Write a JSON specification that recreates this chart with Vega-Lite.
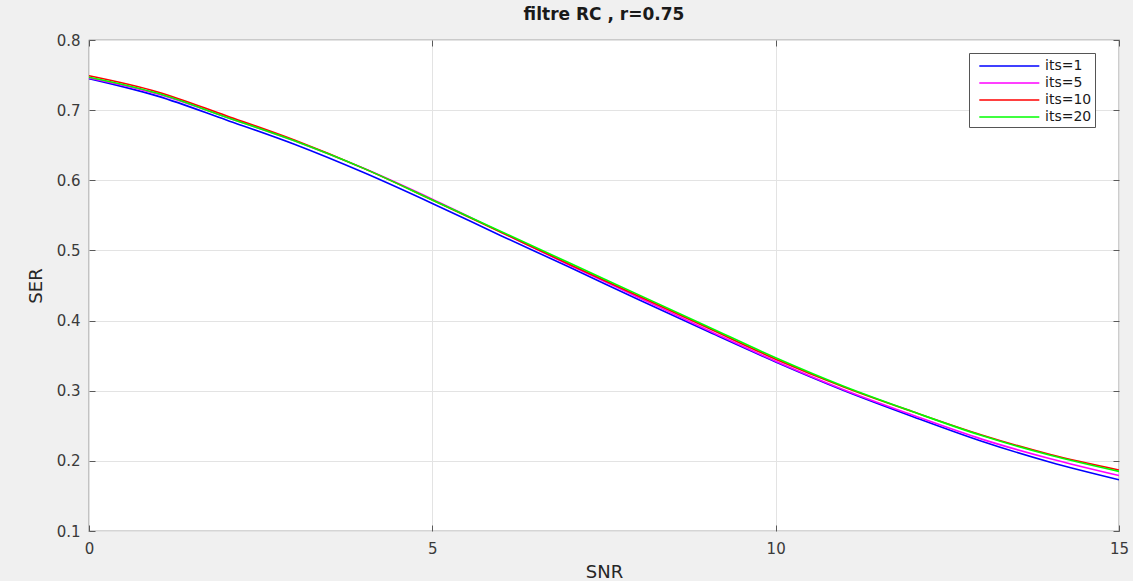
{
  "$schema": "https://vega.github.io/schema/vega-lite/v6.json",
  "width": 1030,
  "height": 491,
  "autosize": {"type": "none"},
  "padding": {"left": 89, "top": 40, "right": 14, "bottom": 50},
  "background": "#f0f0f0",
  "config": {
    "font": "DejaVu Sans",
    "view": {"fill": "#ffffff", "stroke": "#5a5a5a", "strokeWidth": 1.2},
    "axis": {
      "labelFont": "DejaVu Sans",
      "labelFontSize": 15,
      "labelColor": "#3a3a3a",
      "labelFlush": false,
      "titleFont": "DejaVu Sans",
      "titleFontSize": 18,
      "titleFontWeight": "normal",
      "titleColor": "#262626",
      "gridColor": "#e3e3e3",
      "gridWidth": 1,
      "domain": false,
      "tickColor": "#5a5a5a",
      "tickSize": -6,
      "tickWidth": 1
    }
  },
  "title": {
    "text": "filtre RC , r=0.75",
    "font": "DejaVu Sans",
    "fontSize": 17,
    "fontWeight": "bold",
    "color": "#1a1a1a",
    "offset": 9,
    "anchor": "middle"
  },
  "data": {
    "values": [
      {"SNR": 0, "SER": 0.745, "its": "its=1"},
      {"SNR": 1, "SER": 0.720, "its": "its=1"},
      {"SNR": 2, "SER": 0.686, "its": "its=1"},
      {"SNR": 3, "SER": 0.651, "its": "its=1"},
      {"SNR": 4, "SER": 0.611, "its": "its=1"},
      {"SNR": 5, "SER": 0.567, "its": "its=1"},
      {"SNR": 6, "SER": 0.521, "its": "its=1"},
      {"SNR": 7, "SER": 0.476, "its": "its=1"},
      {"SNR": 8, "SER": 0.430, "its": "its=1"},
      {"SNR": 9, "SER": 0.385, "its": "its=1"},
      {"SNR": 10, "SER": 0.341, "its": "its=1"},
      {"SNR": 11, "SER": 0.300, "its": "its=1"},
      {"SNR": 12, "SER": 0.263, "its": "its=1"},
      {"SNR": 13, "SER": 0.228, "its": "its=1"},
      {"SNR": 14, "SER": 0.198, "its": "its=1"},
      {"SNR": 15, "SER": 0.173, "its": "its=1"},
      {"SNR": 0, "SER": 0.746, "its": "its=5"},
      {"SNR": 1, "SER": 0.723, "its": "its=5"},
      {"SNR": 2, "SER": 0.690, "its": "its=5"},
      {"SNR": 3, "SER": 0.656, "its": "its=5"},
      {"SNR": 4, "SER": 0.617, "its": "its=5"},
      {"SNR": 5, "SER": 0.573, "its": "its=5"},
      {"SNR": 6, "SER": 0.526, "its": "its=5"},
      {"SNR": 7, "SER": 0.479, "its": "its=5"},
      {"SNR": 8, "SER": 0.433, "its": "its=5"},
      {"SNR": 9, "SER": 0.387, "its": "its=5"},
      {"SNR": 10, "SER": 0.342, "its": "its=5"},
      {"SNR": 11, "SER": 0.301, "its": "its=5"},
      {"SNR": 12, "SER": 0.265, "its": "its=5"},
      {"SNR": 13, "SER": 0.231, "its": "its=5"},
      {"SNR": 14, "SER": 0.203, "its": "its=5"},
      {"SNR": 15, "SER": 0.179, "its": "its=5"},
      {"SNR": 0, "SER": 0.749, "its": "its=10"},
      {"SNR": 1, "SER": 0.726, "its": "its=10"},
      {"SNR": 2, "SER": 0.692, "its": "its=10"},
      {"SNR": 3, "SER": 0.657, "its": "its=10"},
      {"SNR": 4, "SER": 0.617, "its": "its=10"},
      {"SNR": 5, "SER": 0.572, "its": "its=10"},
      {"SNR": 6, "SER": 0.526, "its": "its=10"},
      {"SNR": 7, "SER": 0.480, "its": "its=10"},
      {"SNR": 8, "SER": 0.435, "its": "its=10"},
      {"SNR": 9, "SER": 0.390, "its": "its=10"},
      {"SNR": 10, "SER": 0.345, "its": "its=10"},
      {"SNR": 11, "SER": 0.305, "its": "its=10"},
      {"SNR": 12, "SER": 0.270, "its": "its=10"},
      {"SNR": 13, "SER": 0.237, "its": "its=10"},
      {"SNR": 14, "SER": 0.209, "its": "its=10"},
      {"SNR": 15, "SER": 0.187, "its": "its=10"},
      {"SNR": 0, "SER": 0.747, "its": "its=20"},
      {"SNR": 1, "SER": 0.724, "its": "its=20"},
      {"SNR": 2, "SER": 0.690, "its": "its=20"},
      {"SNR": 3, "SER": 0.656, "its": "its=20"},
      {"SNR": 4, "SER": 0.617, "its": "its=20"},
      {"SNR": 5, "SER": 0.572, "its": "its=20"},
      {"SNR": 6, "SER": 0.527, "its": "its=20"},
      {"SNR": 7, "SER": 0.482, "its": "its=20"},
      {"SNR": 8, "SER": 0.437, "its": "its=20"},
      {"SNR": 9, "SER": 0.392, "its": "its=20"},
      {"SNR": 10, "SER": 0.347, "its": "its=20"},
      {"SNR": 11, "SER": 0.306, "its": "its=20"},
      {"SNR": 12, "SER": 0.270, "its": "its=20"},
      {"SNR": 13, "SER": 0.236, "its": "its=20"},
      {"SNR": 14, "SER": 0.208, "its": "its=20"},
      {"SNR": 15, "SER": 0.185, "its": "its=20"}
    ]
  },
  "layer": [
    {
      "mark": {"type": "line", "interpolate": "monotone", "strokeWidth": 1.6, "clip": true},
      "encoding": {
        "x": {
          "field": "SNR", "type": "quantitative",
          "scale": {"domain": [0, 15], "nice": false, "zero": false},
          "axis": {"values": [0, 5, 10, 15], "title": "SNR", "titlePadding": 7, "labelPadding": 16, "grid": true}
        },
        "y": {
          "field": "SER", "type": "quantitative",
          "scale": {"domain": [0.1, 0.8], "nice": false, "zero": false},
          "axis": {"values": [0.1, 0.2, 0.3, 0.4, 0.5, 0.6, 0.7, 0.8], "format": ".1f", "title": "SER", "titlePadding": 11, "labelPadding": 15, "grid": true}
        },
        "color": {
          "field": "its", "type": "nominal",
          "sort": ["its=1", "its=5", "its=10", "its=20"],
          "scale": {"domain": ["its=1", "its=5", "its=10", "its=20"], "range": ["#0000ff", "#ff00ff", "#ff0000", "#00ff00"]},
          "legend": {
            "title": null,
            "orient": "none",
            "legendX": 880,
            "legendY": 13,
            "symbolType": "M-0.3,0L6.37,0",
            "symbolSize": 324,
            "symbolStrokeWidth": 1.6,
            "labelFont": "DejaVu Sans",
            "labelFontSize": 14,
            "labelColor": "#1a1a1a",
            "fillColor": "#ffffff",
            "strokeColor": "#555555",
            "padding": 3,
            "rowPadding": 0,
            "labelOffset": 53
          }
        }
      }
    },
    {
      "mark": {"type": "point", "opacity": 0},
      "encoding": {
        "x": {
          "field": "SNR", "type": "quantitative",
          "scale": {"domain": [0, 15], "nice": false, "zero": false},
          "axis": {"orient": "top", "values": [0, 5, 10, 15], "labels": false, "title": null, "grid": false}
        },
        "y": {
          "field": "SER", "type": "quantitative",
          "scale": {"domain": [0.1, 0.8], "nice": false, "zero": false},
          "axis": {"orient": "right", "values": [0.1, 0.2, 0.3, 0.4, 0.5, 0.6, 0.7, 0.8], "labels": false, "title": null, "grid": false}
        }
      }
    }
  ],
  "resolve": {"axis": {"x": "independent", "y": "independent"}}
}
